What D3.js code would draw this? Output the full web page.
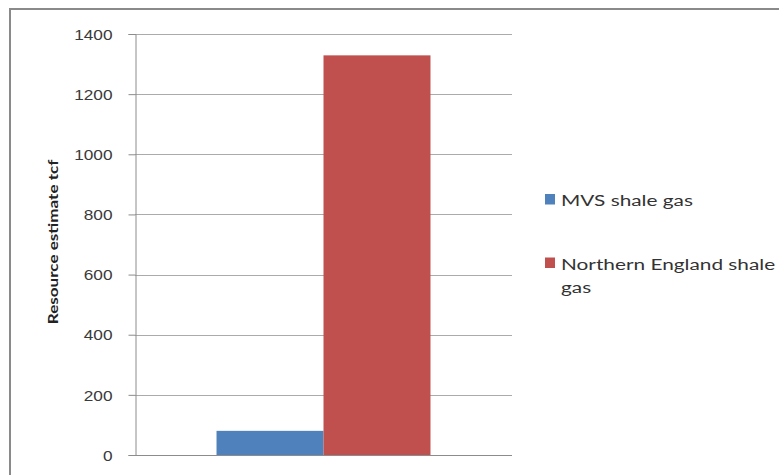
<!DOCTYPE html>
<html>
<head>
<meta charset="utf-8">
<script src="https://cdn.jsdelivr.net/npm/d3@7/dist/d3.min.js"></script>
<style>
  html, body { margin: 0; padding: 0; background: #fff; }
  svg { display: block; font-family: Lato, "Open Sans", "Liberation Sans", sans-serif; }
</style>
</head>
<body>
<svg id="chart" width="779" height="475"></svg>
<script>
// Shale gas resource estimates (tcf)
const categories = ["Shale gas"];
const seriesNames = ["MVS shale gas", "Northern England shale gas"];
const seriesValues = [80.3, 1329];
const seriesColors = ["#4F81BD", "#C0504D"];
const yTicks = [0, 200, 400, 600, 800, 1000, 1200, 1400];
const yTitle = "Resource estimate tcf";
const legendLines = [["MVS shale gas"], ["Northern England shale", "gas"]];

const svg = d3.select("#chart");

// outer chart frame
svg.append("rect")
  .attr("x", 10).attr("y", 9)
  .attr("width", 790).attr("height", 490)
  .attr("fill", "#fff")
  .attr("stroke", "#8a8a8a").attr("stroke-width", 2);

const plot = { left: 135, right: 512, top: 34, bottom: 455 };

const y = d3.scaleLinear().domain([0, 1400]).range([plot.bottom, plot.top]);
const x0 = d3.scaleBand().domain(categories).range([plot.left, plot.right])
  .paddingInner(0).paddingOuter(0.381);
const x1 = d3.scaleBand().domain(seriesNames).range([0, x0.bandwidth()]).padding(0);

// gridlines
svg.append("g")
  .selectAll("line")
  .data(yTicks)
  .join("line")
  .attr("x1", plot.left).attr("x2", plot.right)
  .attr("y1", d => Math.round(y(d)) + 0.5).attr("y2", d => Math.round(y(d)) + 0.5)
  .attr("stroke", "#ababab").attr("stroke-width", 1);

// bars
const groups = svg.append("g")
  .selectAll("g")
  .data(categories)
  .join("g")
  .attr("transform", d => `translate(${x0(d)},0)`);

groups.selectAll("rect")
  .data(() => seriesNames.map((s, i) => ({ s, v: seriesValues[i], c: seriesColors[i] })))
  .join("rect")
  .attr("x", d => x1(d.s))
  .attr("width", x1.bandwidth())
  .attr("y", d => y(d.v))
  .attr("height", d => y(0) - y(d.v))
  .attr("fill", d => d.c);

// y axis
const yAxis = d3.axisLeft(y).tickValues(yTicks).tickSize(7).tickPadding(0).tickFormat(d3.format("d"));
const ga = svg.append("g")
  .attr("transform", `translate(${plot.left + 0.5},0)`)
  .call(yAxis);
ga.select(".domain").attr("stroke", "#8c8c8c");
ga.selectAll(".tick line").attr("stroke", "#8c8c8c");
ga.selectAll(".tick text")
  .attr("x", null)
  .attr("transform", "translate(-23,0) scale(1.15,1)")
  .attr("fill", "#3a3a3a")
  .style("font-size", "15px")
  .attr("dy", "0.35em");

// baseline
svg.append("line")
  .attr("x1", plot.left).attr("x2", plot.right)
  .attr("y1", Math.round(y(0)) + 0.5).attr("y2", Math.round(y(0)) + 0.5)
  .attr("stroke", "#8c8c8c");

// y-axis title
svg.append("text")
  .attr("transform", `translate(58,242) rotate(-90) scale(1.22,1)`)
  .attr("text-anchor", "middle")
  .style("font-size", "14px")
  .style("font-weight", "bold")
  .attr("fill", "#222")
  .text(yTitle);

// legend
const legendBaselines = [206, 269.5];
const legend = svg.append("g");
seriesNames.forEach((name, i) => {
  const by = legendBaselines[i];
  legend.append("rect")
    .attr("x", 545).attr("y", by - 12)
    .attr("width", 10).attr("height", 10.5)
    .attr("fill", seriesColors[i]);
  legendLines[i].forEach((t, j) => {
    legend.append("text")
      .attr("transform", `translate(561,${by + j * 23}) scale(1.3,1)`)
      .style("font-size", "16px")
      .attr("fill", "#333")
      .text(t);
  });
});
</script>
</body>
</html>
